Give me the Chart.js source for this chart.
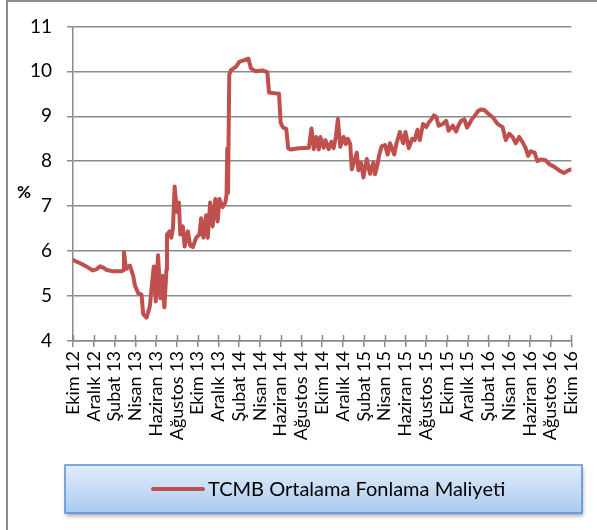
<!DOCTYPE html>
<html>
<head>
<meta charset="utf-8">
<script src="https://cdn.jsdelivr.net/npm/chart.js@4.4.1/dist/chart.umd.min.js"></script>
<style>
  html, body { margin: 0; padding: 0; background: #fff; }
  #wrap { width: 597px; height: 530px; position: relative; }
</style>
</head>
<body>
<div id="wrap"><canvas id="chart" width="597" height="530"></canvas></div>
<script>
// months since Ekim 2012
const months = [
  0, 0.7, 1.34, 1.91, 2.3, 2.61, 3.0, 3.25, 3.89, 4.69, 4.85, 4.91, 5.1, 5.48, 5.8, 5.96,
  6.28, 6.6, 6.76, 7.08, 7.4, 7.56, 7.78, 7.97, 8.19, 8.42, 8.61, 8.8, 9.0, 9.05, 9.31,
  9.47, 9.63, 9.79, 10.01, 10.2, 10.33, 10.58, 10.75, 11.06, 11.29, 11.54, 11.87, 12.18,
  12.34, 12.56, 12.82, 12.98, 13.21, 13.45, 13.71, 13.93, 14.1, 14.41, 14.67, 14.79,
  14.86, 14.93, 15.05, 15.22, 15.69, 16.01, 16.49, 16.9, 17.13, 17.61, 18.24, 18.72,
  18.88, 19.52, 19.84, 20.0, 20.22, 20.54, 20.73, 20.96, 21.75, 22.71, 22.97, 23.19,
  23.41, 23.67, 23.83, 24.14, 24.31, 24.62, 24.88, 25.1, 25.32, 25.51, 25.74, 26.06,
  26.28, 26.47, 26.7, 26.85, 27.01, 27.33, 27.49, 27.75, 27.97, 28.29, 28.61, 28.93,
  29.09, 29.34, 29.47, 29.72, 30.05, 30.3, 30.53, 30.94, 31.16, 31.48, 31.8, 32.02,
  32.34, 32.66, 32.92, 33.17, 33.4, 33.71, 34.03, 34.26, 34.51, 34.77, 34.99, 35.22,
  35.63, 35.94, 36.17, 36.58, 36.9, 37.13, 37.38, 37.7, 37.95, 38.18, 38.4, 38.66,
  38.98, 39.29, 39.62, 39.93, 40.41, 40.89, 41.37, 41.68, 42.01, 42.33, 42.64, 42.97,
  43.28, 43.6, 43.83, 44.08, 44.46, 44.72, 45.1, 45.51, 45.84, 46.32, 46.79, 47.27,
  47.75, 48.0
];
const fundingCost = [
  5.80, 5.73, 5.65, 5.57, 5.60, 5.66, 5.62, 5.58, 5.55, 5.55, 5.58, 5.98, 5.60, 5.68, 5.45, 5.24,
  5.06, 5.03, 4.60, 4.52, 4.77, 5.16, 5.66, 4.88, 5.91, 4.95, 5.45, 4.75, 5.59, 6.37, 6.44,
  6.30, 6.52, 7.44, 6.87, 7.08, 6.37, 6.55, 6.10, 6.44, 6.12, 6.09, 6.30, 6.37,
  6.73, 6.30, 6.80, 6.30, 7.08, 6.55, 7.16, 6.66, 7.16, 6.98, 7.08, 7.26,
  8.29, 7.30, 9.93, 10.03, 10.10, 10.21, 10.25, 10.28, 10.07, 10.00, 10.02, 9.98,
  9.53, 9.51, 9.50, 8.86, 8.75, 8.72, 8.29, 8.26, 8.29, 8.30, 8.73, 8.27,
  8.54, 8.26, 8.54, 8.30, 8.47, 8.27, 8.43, 8.29, 8.55, 8.94, 8.32, 8.54,
  8.38, 8.50, 8.38, 7.82, 7.94, 8.19, 7.80, 7.96, 7.64, 8.05, 7.72, 7.97,
  7.71, 7.94, 8.12, 8.33, 8.36, 8.15, 8.40, 8.15, 8.40, 8.65, 8.40, 8.65,
  8.29, 8.50, 8.47, 8.70, 8.47, 8.83, 8.76, 8.86, 8.93, 9.02, 8.98, 8.79,
  8.83, 8.90, 8.68, 8.79, 8.66, 8.80, 8.90, 8.93, 8.75, 8.83, 8.93, 9.00,
  9.11, 9.15, 9.14, 9.07, 8.98, 8.83, 8.76, 8.47, 8.61, 8.54, 8.40, 8.54,
  8.43, 8.29, 8.12, 8.22, 8.19, 8.00, 8.04, 8.02, 7.94, 7.88, 7.80, 7.74,
  7.80, 7.82
];
const tickLabels = [
  'Ekim 12', 'Aralık 12', 'Şubat 13', 'Nisan 13', 'Haziran 13', 'Ağustos 13',
  'Ekim 13', 'Aralık 13', 'Şubat 14', 'Nisan 14', 'Haziran 14', 'Ağustos 14',
  'Ekim 14', 'Aralık 14', 'Şubat 15', 'Nisan 15', 'Haziran 15', 'Ağustos 15',
  'Ekim 15', 'Aralık 15', 'Şubat 16', 'Nisan 16', 'Haziran 16', 'Ağustos 16', 'Ekim 16'
];
const seriesName = 'TCMB Ortalama Fonlama Maliyeti';
const unitLabel = '%';

const FONT = 'Lato, "Open Sans", sans-serif';
const GRID = '#8a8a8a';

const decor = {
  id: 'decor',
  beforeDraw(chart) {
    const ctx = chart.ctx;
    ctx.save();
    // outer frame (left + top)
    ctx.strokeStyle = '#8c8c8c';
    ctx.lineWidth = 2;
    ctx.beginPath();
    ctx.moveTo(7, 530);
    ctx.lineTo(7, 1);
    ctx.lineTo(597, 1);
    ctx.stroke();
    ctx.restore();
  },
  afterDraw(chart) {
    const ctx = chart.ctx;
    const xs = chart.scales.x;
    const area = chart.chartArea;
    ctx.save();
    // small upward marks on the category axis
    ctx.strokeStyle = GRID;
    ctx.lineWidth = 1.5;
    xs.ticks.forEach(t => {
      const px = Math.round(xs.getPixelForValue(t.value)) + 0.5;
      ctx.beginPath();
      ctx.moveTo(px, area.bottom);
      ctx.lineTo(px, area.bottom - 6);
      ctx.stroke();
    });
    // unit label
    ctx.fillStyle = '#000';
    ctx.font = 'bold 17px ' + FONT;
    ctx.textAlign = 'left';
    ctx.textBaseline = 'middle';
    ctx.fillText(unitLabel, 17, 193);

    // legend box
    const bx = 65, by = 465, bw = 517, bh = 48;
    ctx.save();
    ctx.shadowColor = 'rgba(0,0,0,0.35)';
    ctx.shadowBlur = 4;
    ctx.shadowOffsetX = 1;
    ctx.shadowOffsetY = 3;
    const g = ctx.createLinearGradient(0, by, 0, by + bh);
    g.addColorStop(0, '#e3eefb');
    g.addColorStop(1, '#a9c9f1');
    ctx.fillStyle = g;
    ctx.fillRect(bx, by, bw, bh);
    ctx.restore();
    ctx.strokeStyle = '#5b8fd6';
    ctx.lineWidth = 1.5;
    ctx.strokeRect(bx, by, bw, bh);

    const ds = chart.data.datasets[0];
    ctx.strokeStyle = ds.borderColor;
    ctx.lineWidth = 4;
    ctx.lineCap = 'round';
    ctx.beginPath();
    ctx.moveTo(153, 489);
    ctx.lineTo(203, 489);
    ctx.stroke();
    ctx.fillStyle = '#000';
    ctx.font = '20px ' + FONT;
    ctx.textBaseline = 'middle';
    ctx.fillText(ds.label, 208, 490);
    ctx.restore();
  }
};

new Chart(document.getElementById('chart'), {
  type: 'line',
  data: {
    datasets: [{
      label: seriesName,
      data: months.map((m, i) => ({ x: m, y: fundingCost[i] })),
      borderColor: '#c0504d',
      borderWidth: 4,
      pointRadius: 0,
      tension: 0,
      borderJoinStyle: 'round',
      borderCapStyle: 'round'
    }]
  },
  options: {
    responsive: false,
    animation: false,
    layout: { padding: { top: 13, right: 23, bottom: 80, left: 0 } },
    plugins: { legend: { display: false }, tooltip: { enabled: false } },
    scales: {
      x: {
        type: 'linear',
        min: 0,
        max: 48,
        afterFit(scale) { scale.height = 109; },
        border: { color: GRID, width: 1.5 },
        grid: { drawOnChartArea: false, color: GRID, lineWidth: 1.5, tickLength: 6 },
        ticks: {
          stepSize: 2,
          autoSkip: false,
          maxRotation: 90,
          minRotation: 90,
          padding: 4,
          color: '#000',
          font: { family: FONT, size: 18 },
          callback: v => tickLabels[v / 2]
        }
      },
      y: {
        min: 4,
        max: 11,
        afterFit(scale) { scale.width = 73; },
        border: { color: GRID, width: 1.5 },
        grid: { color: GRID, lineWidth: 1.5, tickLength: 6 },
        ticks: {
          stepSize: 1,
          padding: 15,
          color: '#000',
          font: { family: FONT, size: 19 }
        }
      }
    }
  },
  plugins: [decor]
});
</script>
</body>
</html>
